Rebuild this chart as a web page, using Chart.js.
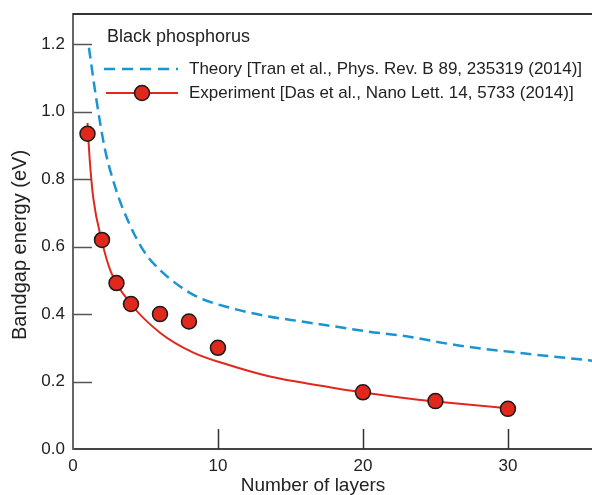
<!DOCTYPE html>
<html>
<head>
<meta charset="utf-8">
<script src="https://cdn.jsdelivr.net/npm/chart.js@4"></script>
<style>
  body { margin: 0; background: #fff; }
  #wrap { width: 592px; height: 495px; }
</style>
</head>
<body>
<div id="wrap"><canvas id="chart" width="592" height="495"></canvas></div>
<script>
// measured points (Das et al.)
var layers = [1, 2, 3, 4, 6, 8, 10, 20, 25, 30];
var gapExp = [0.935, 0.62, 0.492, 0.43, 0.40, 0.378, 0.30, 0.168, 0.142, 0.119];

// red fitted curve
var fitLayers = [1, 1.15, 1.4, 2, 2.6, 4, 6, 8.3, 10.7, 13.5, 15.8, 18, 20.4, 22.7, 25, 30];
var fitGap = [0.967, 0.86, 0.744, 0.615, 0.527, 0.43, 0.345, 0.286, 0.25, 0.216, 0.197, 0.181, 0.165, 0.152, 0.141, 0.121];

// blue dashed theory curve (Tran et al.)
var theoryLayers = [1.1, 1.6, 2.2, 3, 3.8, 4.9, 6.1, 8.4, 10.9, 13.5, 15.8, 18.1, 20.4, 22.7, 26.6, 31.2, 35.8];
var theoryGap = [1.19, 1.04, 0.89, 0.765, 0.676, 0.586, 0.527, 0.455, 0.418, 0.393, 0.378, 0.363, 0.348, 0.336, 0.307, 0.283, 0.262];

var xTicks = [0, 10, 20, 30];
var yTicks = [0, 0.2, 0.4, 0.6, 0.8, 1.0, 1.2];

var legendTitle = 'Black phosphorus';
var theoryLabel = 'Theory [Tran et al., Phys. Rev. B 89, 235319 (2014)]';
var expLabel = 'Experiment [Das et al., Nano Lett. 14, 5733 (2014)]';

var RED = '#e0281c';
var BLUE = '#1b94d2';
var FONT = '"Liberation Sans", Arial, sans-serif';

function pairs(xs, ys) { return xs.map(function (x, i) { return { x: x, y: ys[i] }; }); }

// frame, inward ticks, axis titles and the legend box
var decor = {
    id: 'decor',
    afterDraw: function (chart) {
        var c = chart.ctx, a = chart.chartArea;
        var xs = chart.scales.x, ys = chart.scales.y;
        c.save();
        // top border
        c.strokeStyle = '#333';
        c.lineWidth = 2;
        c.beginPath(); c.moveTo(a.left, a.top); c.lineTo(a.right, a.top); c.stroke();
        // ticks pointing into the plot
        c.lineWidth = 1.5;
        c.strokeStyle = '#555';
        yTicks.forEach(function (v) {
            if (v === 0) return;
            var y = Math.round(ys.getPixelForValue(v)) + 0.5;
            c.beginPath(); c.moveTo(a.left, y); c.lineTo(a.left + 19, y); c.stroke();
        });
        c.strokeStyle = '#333';
        xTicks.forEach(function (v) {
            if (v === 0) return;
            var x = Math.round(xs.getPixelForValue(v)) + 0.5;
            c.beginPath(); c.moveTo(x, a.bottom); c.lineTo(x, a.bottom - 20); c.stroke();
        });

        // axis titles
        c.fillStyle = '#222';
        c.textAlign = 'center';
        c.textBaseline = 'middle';
        c.font = '19px ' + FONT;
        c.fillText('Number of layers', 313, 486);
        c.save();
        c.translate(20, 245);
        c.rotate(-Math.PI / 2);
        c.font = '20px ' + FONT;
        c.fillText('Bandgap energy (eV)', 0, 0);
        c.restore();

        // legend
        c.textAlign = 'left';
        c.textBaseline = 'alphabetic';
        c.font = '18px ' + FONT;
        c.fillText(legendTitle, 107, 42);
        c.font = '17px ' + FONT;
        c.fillText(theoryLabel, 189, 74);
        c.fillText(expLabel, 189, 98);

        c.strokeStyle = BLUE;
        c.lineWidth = 2.5;
        c.setLineDash([11, 7]);
        c.beginPath(); c.moveTo(104, 69); c.lineTo(178, 69); c.stroke();
        c.setLineDash([]);
        c.strokeStyle = RED;
        c.lineWidth = 2;
        c.beginPath(); c.moveTo(106, 93); c.lineTo(178, 93); c.stroke();
        c.fillStyle = RED;
        c.strokeStyle = '#1a1a1a';
        c.lineWidth = 1.5;
        c.beginPath(); c.arc(142, 93, 7.5, 0, Math.PI * 2); c.fill(); c.stroke();
        c.restore();
    }
};

var ctx = document.getElementById('chart').getContext('2d');

var chart = new Chart(ctx, {
    type: 'scatter',
    data: {
        datasets: [
            {
                label: 'Experiment',
                data: pairs(layers, gapExp),
                showLine: false,
                pointRadius: 7.5,
                pointHoverRadius: 7.5,
                pointBackgroundColor: RED,
                pointBorderColor: '#1a1a1a',
                pointBorderWidth: 1.5
            },
            {
                label: 'Fit',
                data: pairs(fitLayers, fitGap),
                showLine: true,
                pointRadius: 0,
                borderColor: RED,
                borderWidth: 2,
                cubicInterpolationMode: 'monotone'
            },
            {
                label: 'Theory',
                data: pairs(theoryLayers, theoryGap),
                showLine: true,
                pointRadius: 0,
                borderColor: BLUE,
                borderWidth: 2.5,
                borderDash: [11, 6],
                cubicInterpolationMode: 'monotone'
            }
        ]
    },
    options: {
        responsive: false,
        animation: false,
        layout: { autoPadding: false, padding: { top: 14, right: 0, left: 0, bottom: 0 } },
        plugins: {
            legend: { display: false },
            tooltip: { enabled: false }
        },
        scales: {
            x: {
                type: 'linear',
                min: 0,
                max: 35.8,
                afterBuildTicks: function (scale) {
                    scale.ticks = xTicks.map(function (v) { return { value: v }; });
                },
                afterFit: function (scale) {
                    scale.height = 46;
                    scale.paddingLeft = 0;
                    scale.paddingRight = 0;
                },
                grid: { display: false, drawTicks: false },
                border: { display: true, color: '#444', width: 2 },
                ticks: {
                    padding: 7,
                    maxRotation: 0,
                    color: '#222',
                    font: { family: FONT, size: 17 },
                    callback: function (v) { return String(v); }
                }
            },
            y: {
                type: 'linear',
                min: 0,
                max: 1.29,
                afterBuildTicks: function (scale) {
                    scale.ticks = yTicks.map(function (v) { return { value: v }; });
                },
                afterFit: function (scale) {
                    scale.width = 73;
                    scale.paddingTop = 0;
                    scale.paddingBottom = 0;
                },
                grid: { display: false, drawTicks: false },
                border: { display: true, color: '#666', width: 2 },
                ticks: {
                    padding: 8,
                    color: '#222',
                    font: { family: FONT, size: 17 },
                    callback: function (v) { return Number(v).toFixed(1); }
                }
            }
        }
    },
    plugins: [decor]
});
</script>
</body>
</html>
